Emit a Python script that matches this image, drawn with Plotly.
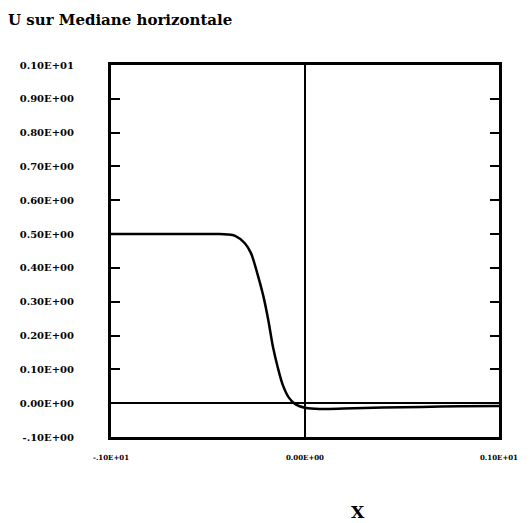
import plotly.graph_objects as go

# Data
x_vals = [-1.0, -0.6, -0.45, -0.40, -0.36, -0.31, -0.278, -0.246, -0.214, -0.189,
          -0.165, -0.141, -0.117, -0.085, -0.052, 0.005, 0.08, 0.2, 0.4, 0.6, 0.8, 1.0]
u_vals = [0.5, 0.5, 0.5, 0.499, 0.495, 0.473, 0.443, 0.384, 0.315, 0.245,
          0.166, 0.107, 0.058, 0.018, -0.002, -0.014, -0.017, -0.016, -0.013, -0.011, -0.009, -0.008]

y_tickvals = [-0.1, 0.0, 0.1, 0.2, 0.3, 0.4, 0.5, 0.6, 0.7, 0.8, 0.9, 1.0]
y_ticktext = ["-.10E+00", "0.00E+00", "0.10E+00", "0.20E+00", "0.30E+00", "0.40E+00",
              "0.50E+00", "0.60E+00", "0.70E+00", "0.80E+00", "0.90E+00", "0.10E+01"]
x_tickvals = [-1.0, 0.0, 1.0]
x_ticktext = ["-.10E+01", "0.00E+00", "0.10E+01"]

title_text = "U sur Mediane horizontale"
x_title = "X"

FONT = "DejaVu Serif"

# page has an 8px body margin, so the figure is 8px smaller than the window
W, H = 522, 515
L, T, R, B = 90, 57, 20, 86
PW, PH = W - L - R, H - T - B

fig = go.Figure()
fig.add_trace(go.Scatter(
    x=x_vals, y=u_vals, mode="lines",
    line=dict(color="black", width=2.5, shape="spline", smoothing=0.8),
    hoverinfo="skip", showlegend=False,
))

fig.update_layout(
    width=W, height=H,
    margin=dict(l=L, r=R, t=T, b=B),
    paper_bgcolor="white", plot_bgcolor="white",
    title=dict(text=title_text, x=0, xanchor="left", xref="container",
               y=1 - 12 / H, yanchor="middle", yref="container",
               font=dict(family=FONT, size=15, color="black", weight="bold")),
    xaxis=dict(range=[-1, 1], tickvals=x_tickvals, ticktext=x_ticktext,
               showgrid=False, showline=True, linewidth=3, linecolor="black",
               mirror=True, ticks="", ticklabelstandoff=12,
               zeroline=True, zerolinecolor="black", zerolinewidth=1.5,
               tickfont=dict(family=FONT, size=7, color="black", weight="bold")),
    yaxis=dict(range=[-0.1, 1.0], tickvals=y_tickvals, ticktext=y_ticktext,
               showgrid=False, showline=True, linewidth=3, linecolor="black",
               mirror="ticks", ticks="inside", ticklen=9, tickwidth=1.5, tickcolor="black",
               ticklabelstandoff=32,
               zeroline=True, zerolinecolor="black", zerolinewidth=1.5,
               tickfont=dict(family=FONT, size=10, color="black", weight="bold")),
    annotations=[dict(text=x_title, xref="paper", yref="paper",
                      x=(352 - L) / PW, y=-(504 - (T + PH)) / PH,
                      xanchor="center", yanchor="middle", showarrow=False,
                      font=dict(family=FONT, size=17, color="black", weight="bold"))],
)

fig.write_html("out.html")
